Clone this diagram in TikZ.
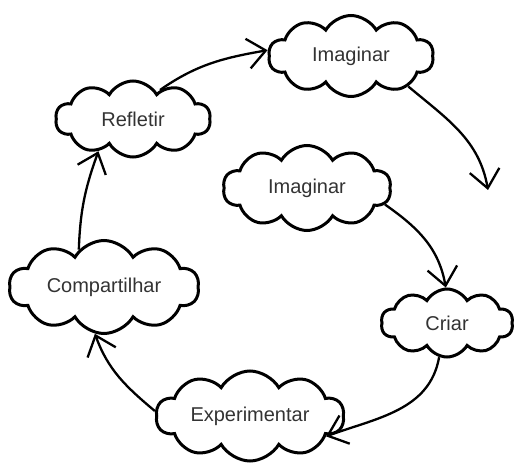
\documentclass[tikz,border=0pt]{standalone}
\usepackage{fontspec}
\setmainfont{Liberation Sans}
\usetikzlibrary{shapes.symbols,arrows.meta}
\definecolor{inkgray}{HTML}{333333}
\tikzset{
  idea/.style={cloud, cloud puffs=10, cloud puff arc=120, cloud ignores aspect,
    draw=black, line width=3pt, inner sep=0pt, text=inkgray,
    font=\fontsize{20}{24}\selectfont},
  flow/.style={line width=2.3pt, -{Straight Barb[length=18pt,width=30pt,line width=2.3pt]}}
}
\begin{document}
\begin{tikzpicture}[x=1pt,y=1pt]
  \useasboundingbox (0,0) rectangle (516,464);
  % the six stages of the cycle
  \node[idea, minimum width=165pt, minimum height=81pt] (img1) at (351,408) {Imaginar};
  \node[idea, minimum width=155pt, minimum height=76pt] (refl) at (133,345) {Refletir};
  \node[idea, minimum width=168pt, minimum height=85pt] (img2) at (307,276) {Imaginar};
  \node[idea, minimum width=190pt, minimum height=93pt] (comp) at (104,177) {Compartilhar};
  \node[idea, minimum width=132pt, minimum height=68pt] (criar) at (447,141) {Criar};
  \node[idea, minimum width=188pt, minimum height=90pt] (exp) at (250,48) {Experimentar};
  \coordinate (loose) at (488,274);
  % arrows between the stages
  \draw[flow] (refl.47) to[out=35,in=190] (img1.176);
  \draw[flow] (img1.-28) to[out=-40,in=100] (loose);
  \draw[flow] (img2.-12) to[out=-35,in=100] (criar.92);
  \draw[flow] (criar.257) to[out=-100,in=20] (exp.-15);
  \draw[flow] (exp.177) to[out=140,in=-70] (comp.259);
  \draw[flow] (comp.124) to[out=88,in=-110] (refl.223);
\end{tikzpicture}
\end{document}
